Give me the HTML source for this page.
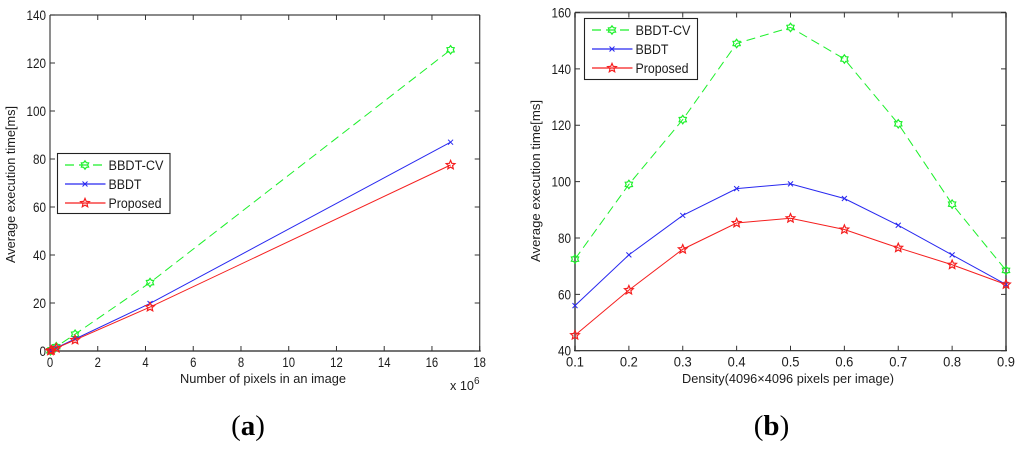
<!DOCTYPE html>
<html>
<head>
<meta charset="utf-8">
<title>Average execution time charts</title>
<style>
html,body{margin:0;padding:0;background:#fff;width:1024px;height:449px;overflow:hidden}
svg{display:block;position:absolute;left:0;top:0;filter:blur(0.35px)}
text{font-family:"Liberation Sans",sans-serif;fill:#1c1c1c}
</style>
</head>
<body>
<svg id="fig" width="1024" height="449" viewBox="0 0 1024 449" xmlns="http://www.w3.org/2000/svg"></svg>
<script>
// Panel (a) data
const aPixels = [0.016, 0.066, 0.262, 1.05, 4.19, 16.78];
const aCv = [0.1, 0.5, 1.8, 7, 28.5, 125.5];
const aBbdt = [0.1, 0.4, 1.3, 5, 19.8, 87];
const aProposed = [0.1, 0.3, 1.2, 4.6, 18.3, 77.5];
const aXTicks = [0, 2, 4, 6, 8, 10, 12, 14, 16, 18];
const aYTicks = [0, 20, 40, 60, 80, 100, 120, 140];
// Panel (b) data
const bDensity = [0.1, 0.2, 0.3, 0.4, 0.5, 0.6, 0.7, 0.8, 0.9];
const bCv = [72.5, 99, 122, 149, 154.7, 143.5, 120.5, 92, 68.5];
const bBbdt = [56, 74, 88, 97.5, 99.2, 94, 84.5, 74, 63.5];
const bProposed = [45.5, 61.5, 76, 85.3, 87, 83, 76.5, 70.5, 63.5];
const bXTicks = [0.1, 0.2, 0.3, 0.4, 0.5, 0.6, 0.7, 0.8, 0.9];
const bYTicks = [40, 60, 80, 100, 120, 140, 160];
const seriesNames = ['BBDT-CV', 'BBDT', 'Proposed'];

const svg = document.getElementById('fig');
const NS = 'http://www.w3.org/2000/svg';
const GREEN = '#1cf02a', BLUE = '#2828f0', RED = '#f51f1f';

function make(parent, tag, attrs, txt) {
  const el = document.createElementNS(NS, tag);
  for (const k in attrs) el.setAttribute(k, attrs[k]);
  if (txt !== undefined) el.textContent = txt;
  parent.appendChild(el);
  return el;
}
function starPts(cx, cy, points, R, r) {
  const out = [];
  for (let i = 0; i < points * 2; i++) {
    const rad = i % 2 ? r : R;
    const ang = -Math.PI / 2 + i * Math.PI / points;
    out.push((cx + rad * Math.cos(ang)).toFixed(2) + ',' + (cy + rad * Math.sin(ang)).toFixed(2));
  }
  return out.join(' ');
}
function marker(parent, kind, cx, cy, color) {
  if (kind === 'cross') {
    const p = make(parent, 'path', {d: `M${cx-2.5} ${cy-2.5}L${cx+2.5} ${cy+2.5}M${cx-2.5} ${cy+2.5}L${cx+2.5} ${cy-2.5}`, stroke: color, 'stroke-width': 1, fill: 'none'});
    
    
  } else {
    const pts = kind === 'hex' ? starPts(cx, cy, 6, 4.2, 2.7) : starPts(cx, cy, 5, 4.6, 2.1);
    const p = make(parent, 'polygon', {points: pts, stroke: color, 'stroke-width': 1.2, fill: 'none'});
    
    
  }
}
function drawSeries(g, xs, ys, X, Y, color, dash, kind, width) {
  const pts = xs.map((v, i) => X(v).toFixed(2) + ',' + Y(ys[i]).toFixed(2)).join(' ');
  const line = make(g, 'polyline', {points: pts, fill: 'none', stroke: color, 'stroke-width': width});
  
  
  if (dash) line.setAttribute('stroke-dasharray', dash);
  xs.forEach((v, i) => marker(g, kind, X(v), Y(ys[i]), color));
}
function drawAxes(g, b, xTicks, yTicks, X, Y, fmtX, charW) {
  const frame = make(g, 'path', {d: `M${b.l} ${b.t}H${b.r}M${b.l} ${b.t}V${b.b}M${b.r} ${b.t}V${b.b}`, stroke: b.frameColor, 'stroke-width': b.frameW, fill: 'none'});
  
  
  const base = make(g, 'line', {x1: b.l - 1, x2: b.r + 1, y1: b.b, y2: b.b, stroke: '#222', 'stroke-width': 1.2});
  
  
  xTicks.forEach(v => {
    const x = X(v);
    const t = make(g, 'path', {d: `M${x} ${b.b}v-5M${x} ${b.t}v5`, stroke: '#333', 'stroke-width': 1});
    
    
    const str = fmtX(v);
    const lab = make(g, 'text', {x: x, y: b.b + 16, 'text-anchor': 'middle', 'font-size': 13.5, textLength: str.length * charW, lengthAdjust: 'spacingAndGlyphs'}, str);
    
    
  });
  yTicks.forEach(v => {
    const y = Y(v);
    const t = make(g, 'path', {d: `M${b.l} ${y}h5M${b.r} ${y}h-5`, stroke: '#333', 'stroke-width': 1});
    
    
    const lab = make(g, 'text', {x: b.l - 4, y: y + 5, 'text-anchor': 'end', 'font-size': 13.5, textLength: String(v).length * 6.5, lengthAdjust: 'spacingAndGlyphs'}, String(v));
    
    
  });
}
function drawLegend(g, box) {
  const rect = make(g, 'rect', {x: box.x, y: box.y, width: box.w, height: box.h, fill: '#fff', stroke: '#222', 'stroke-width': 1.1});
  
  
  const colors = [GREEN, BLUE, RED];
  const kinds = ['hex', 'cross', 'star'];
  seriesNames.forEach((name, i) => {
    const y = box.y + 11.5 + i * 19;
    const ln = make(g, 'line', {x1: box.x + 7.5, x2: box.x + 48, y1: y, y2: y, stroke: colors[i], 'stroke-width': 1.2});
    
    
    if (i === 0) ln.setAttribute('stroke-dasharray', '9 5');
    marker(g, kinds[i], box.x + 27.5, y, colors[i]);
    const t = make(g, 'text', {x: box.x + 51, y: y + 5, 'font-size': 13.5, textLength: name.length === 7 ? 55 : (name.length === 4 ? 33 : 53), lengthAdjust: 'spacingAndGlyphs'}, name);
    
    
  });
}

// Panel (a)
const ba = {l: 50, r: 479.7, t: 15, b: 351, frameColor: '#444', frameW: 1.2};
const Xa = v => ba.l + (v - 0) / 18 * (ba.r - ba.l);
const Ya = v => ba.b - (v - 0) / 140 * (ba.b - ba.t);
const ga = make(svg, 'g', {});


drawAxes(ga, ba, aXTicks, aYTicks, Xa, Ya, v => String(v), 6.3);
drawSeries(ga, aPixels, aCv, Xa, Ya, GREEN, '9 5', 'hex', 1);
drawSeries(ga, aPixels, aBbdt, Xa, Ya, BLUE, null, 'cross', 1);
drawSeries(ga, aPixels, aProposed, Xa, Ya, RED, null, 'star', 1);
drawLegend(ga, {x: 57.5, y: 153.5, w: 112.5, h: 60});

const ayt = make(ga, 'text', {transform: 'translate(15 184.5) rotate(-90)', 'text-anchor': 'middle', 'font-size': 13, textLength: 157, lengthAdjust: 'spacingAndGlyphs'}, 'Average execution time[ms]');


const axt = make(ga, 'text', {x: 263, y: 383, 'text-anchor': 'middle', 'font-size': 13, textLength: 166, lengthAdjust: 'spacingAndGlyphs'}, 'Number of pixels in an image');


const aexp = make(ga, 'text', {x: 450, y: 390, 'font-size': 13, textLength: 24, lengthAdjust: 'spacingAndGlyphs'}, 'x 10');


const aexp6 = make(ga, 'text', {x: 474, y: 384, 'font-size': 10}, '6');



// Panel (b)
const bb = {l: 575, r: 1006, t: 12.5, b: 350.7, frameColor: '#666', frameW: 1.8};
const Xb = v => bb.l + (v - 0.1) / 0.8 * (bb.r - bb.l);
const Yb = v => bb.b - (v - 40) / 120 * (bb.b - bb.t);
const gb = make(svg, 'g', {});


drawAxes(gb, bb, bXTicks, bYTicks, Xb, Yb, v => v.toFixed(1), 6);
drawSeries(gb, bDensity, bCv, Xb, Yb, GREEN, '9 5', 'hex', 1);
drawSeries(gb, bDensity, bBbdt, Xb, Yb, BLUE, null, 'cross', 1);
drawSeries(gb, bDensity, bProposed, Xb, Yb, RED, null, 'star', 1);
drawLegend(gb, {x: 584.5, y: 18.5, w: 113, h: 61});

const byt = make(gb, 'text', {transform: 'translate(540 181) rotate(-90)', 'text-anchor': 'middle', 'font-size': 13, textLength: 162, lengthAdjust: 'spacingAndGlyphs'}, 'Average execution time[ms]');


const bxt = make(gb, 'text', {x: 788, y: 383, 'text-anchor': 'middle', 'font-size': 13, textLength: 212, lengthAdjust: 'spacingAndGlyphs'}, 'Density(4096×4096 pixels per image)');



// Panel captions
function caption(x, letter, name) {
  const t = make(svg, 'text', {x: x, y: 435, 'font-size': 29, 'text-anchor': 'middle', style: 'font-family:"Liberation Serif",serif;fill:#000'});
  
  
  make(t, 'tspan', {}, '(');
  make(t, 'tspan', {'font-weight': 'bold'}, letter);
  make(t, 'tspan', {}, ')');
}
caption(248, 'a', 'caption-a');
caption(771.5, 'b', 'caption-b');
</script>
</body>
</html>
